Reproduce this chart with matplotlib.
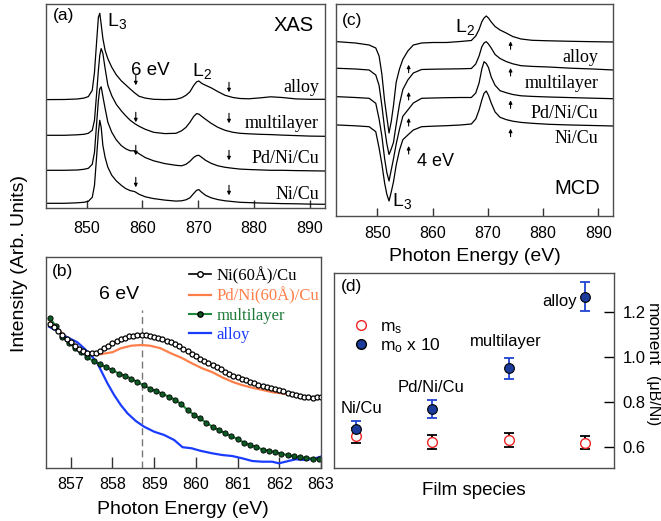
import matplotlib
matplotlib.use("Agg")
import matplotlib.pyplot as plt
from matplotlib.lines import Line2D

plt.rcParams["font.family"] = "Liberation Sans"
plt.rcParams["mathtext.default"] = "regular"

SERIF = "Liberation Serif"

# ---------------- (a) XAS spectra (arb. units, offset) ----------------
E_XAS = [842.7, 846.0, 848.3, 849.5, 850.3, 851.0, 851.4, 851.8, 852.1, 852.35,
         852.6, 852.9, 853.3, 853.8, 854.5, 855.3, 856.2, 857.0, 857.8, 858.6,
         859.4, 860.5, 862.0, 864.0, 866.0, 867.0, 867.8, 868.5, 869.2, 869.7,
         870.1, 870.6, 871.3, 872.3, 873.5, 874.8, 876.2, 877.5, 879.0, 881.0,
         883.0, 885.0, 887.5, 890.0, 892.7]
XAS_ALLOY = [108.7, 108.8, 109.3, 110.2, 111.7, 118, 136, 168, 191, 195,
             184, 170, 158, 149.5, 141, 133.5, 127.5, 123.4, 119.3, 115.4,
             112, 110.2, 109, 108.7, 109, 110.5, 113, 116.5, 123, 126.5,
             127.3, 125, 123, 120.5, 116.7, 113, 110.8, 109.8, 109.5, 110.4,
             111.5, 110.8, 109.4, 109, 109]
XAS_MULTI = [73, 73, 73.5, 74, 75, 78, 88, 116, 138, 153,
             159.7, 155, 140, 123, 112.5, 104, 97.5, 92.5, 88, 84.7,
             82, 79, 76, 74.7, 75, 77.5, 81, 86, 92, 94.7,
             94.2, 92, 89, 85, 81, 78, 76, 75, 74.5, 74,
             73.7, 73.2, 72.7, 72.2, 72]
XAS_PDNICU = [38, 38, 38.3, 39, 40, 44, 56, 86, 108, 119.5,
              121.5, 112, 100, 86, 76, 68.5, 62.7, 59.5, 57.5, 57.5,
              54.5, 50.7, 47.5, 44.7, 43, 42.5, 44, 47, 51, 52.7,
              53, 51, 48, 45, 42.5, 41, 40, 39.2, 38.8, 38.4,
              38, 38, 37.7, 37.5, 37.3]
XAS_NICU = [5, 5, 5.5, 6, 7, 11, 23, 53, 76, 88,
            81, 63, 51, 41, 33, 27.5, 23, 19.7, 17.7, 16.7,
            14, 11.5, 9.7, 8.2, 7.2, 7.5, 8.5, 10.5, 15, 18,
            18.7, 16, 13, 10.5, 8.7, 7.5, 6.7, 6, 5.7, 5.3,
            5, 4.7, 4.5, 4.2, 4]
XAS_LABELS = ["alloy", "multilayer", "Pd/Ni/Cu", "Ni/Cu"]
XAS_LABEL_Y = [120.7, 84.7, 49.7, 14]
XAS_ARROW_E = [858.8, 875.5]
XAS_ARROW_TOP = [[133, 126], [96, 95], [63, 58], [31, 23]]

# ---------------- (c) MCD spectra ----------------
E_MCD = [842.8, 846.0, 848.5, 849.7, 850.3, 850.8, 851.3, 851.7, 852.1, 852.5,
         852.9, 853.4, 854.0, 854.6, 855.5, 856.5, 858.0, 860.0, 862.5, 865.0,
         867.0, 867.8, 868.4, 868.9, 869.3, 869.7, 870.1, 870.6, 871.3, 872.2,
         873.3, 874.5, 876.0, 878.0, 881.0, 885.0, 889.0, 892.7]
MCD_ALLOY = [174.3, 173, 171, 168, 160, 142, 115, 99, 83, 94.4,
             110.2, 134, 147.1, 156.6, 165, 171, 173, 173.5, 173.5, 174.5,
             175.5, 180, 186.5, 194.3, 198, 200, 198, 194, 189.5, 186,
             183, 179.5, 177, 175.7, 175.2, 174.7, 174.3, 174]
MCD_MULTI = [147.7, 147, 146, 141, 130.5, 110.5, 87.4, 72.3, 61.5, 67,
             73.5, 91.5, 112, 126.5, 136, 143, 146.5, 146.8, 147, 147.2,
             147.5, 152, 160, 169.3, 173, 174.3, 172, 168, 161.5, 157.5,
             154.5, 152.2, 150.3, 149.6, 149, 147.8, 147, 146]
MCD_PDNICU = [119.3, 118.5, 117.7, 112.7, 97, 80, 57.3, 43.5, 35, 46,
              57, 72, 87, 99.7, 106, 113, 117.7, 118, 118.3, 118.5,
              118.5, 123, 133, 147, 154.3, 152.5, 148.5, 139, 130.7, 125.3,
              123.3, 121.5, 120.2, 119.6, 119, 118.4, 117.8, 117.3]
MCD_NICU = [91, 90.2, 89.3, 84.3, 68, 52, 33, 21.8, 15, 24,
            34, 51, 66, 76.3, 81, 86, 89.3, 89.8, 90.3, 91,
            92, 97, 106, 116, 122.7, 125, 120.7, 113, 104, 98.7,
            96.4, 94.8, 93.6, 92.7, 91.7, 91, 90.5, 90]
MCD_LABEL_Y = [158.7, 132.7, 102.7, 77.7]
MCD_ARROW_E = [855.65, 874.1]
MCD_ARROW_BASE = [[143.3, 166.7], [116, 140], [90, 107.7], [62, 79.3]]

# ---------------- (b) zoom on the 6 eV satellite ----------------
E_B = [856.5, 856.6, 856.7, 856.8, 856.9, 857.0, 857.1, 857.2, 857.3, 857.4,
       857.5, 857.6, 857.7, 857.8, 857.9, 858.0, 858.1, 858.2, 858.3, 858.4,
       858.5, 858.6, 858.7, 858.8, 858.9, 859.0, 859.1, 859.2, 859.3, 859.4,
       859.5, 859.6, 859.7, 859.8, 859.9, 860.0, 860.1, 860.2, 860.3, 860.4,
       860.5, 860.6, 860.7, 860.8, 860.9, 861.0, 861.1, 861.2, 861.3, 861.4,
       861.5, 861.6, 861.7, 861.8, 861.9, 862.0, 862.1, 862.2, 862.3, 862.4,
       862.5, 862.6, 862.7, 862.8, 862.9, 863.0]
B_NICU = [143.8, 140.5, 137, 132.8, 129, 125.4, 122, 119, 116.5, 115,
          114.4, 115, 117, 119.5, 122, 124.3, 126.6, 128.7, 130.2, 131.3,
          132, 132.5, 132.7, 132.4, 131.8, 131, 130, 128.8, 127.2, 125.4,
          123.5, 121.5, 119, 116.5, 113.7, 111.5, 109, 106.7, 104.5, 102.5,
          100.5, 98.3, 96.2, 94, 92.2, 90.5, 88.8, 87.4, 86, 84.6,
          83.2, 81.9, 80.8, 79.7, 78.6, 77.5, 76.3, 75, 73.6, 72.6,
          71.8, 71.1, 70.5, 70, 70.3, 71]
E_PD = [856.5, 856.7, 857.0, 857.25, 857.5, 857.7, 858.0, 858.2, 858.45, 858.7,
        858.9, 859.15, 859.4, 859.65, 859.9, 860.15, 860.4, 860.65, 860.9, 861.1,
        861.35, 861.6, 861.85, 862.05, 862.3, 862.55, 862.8, 863.0]
B_PD = [145.5, 138.3, 126.7, 117.5, 113.4, 113.4, 115.5, 119.4, 122, 122.7,
        122, 119.5, 114.4, 110, 104.5, 99.4, 95.4, 90, 85.5, 82.7,
        80, 77.7, 75.4, 74.4, 72.7, 71.7, 70.7, 69.4]
E_ML = [856.5, 856.65, 856.8, 856.95, 857.1, 857.25, 857.4, 857.55, 857.7, 857.85,
        858.0, 858.15, 858.3, 858.45, 858.6, 858.75, 858.9, 859.05, 859.2, 859.35,
        859.5, 859.65, 859.8, 859.95, 860.1, 860.25, 860.4, 860.55, 860.7, 860.85,
        861.0, 861.15, 861.3, 861.45, 861.6, 861.75, 861.9, 862.05, 862.2, 862.35,
        862.5, 862.65, 862.8, 862.95]
B_ML = [149.5, 141.5, 131, 124.8, 120, 115.7, 110.5, 106.3, 103.6, 100.5,
        97.7, 94.2, 92, 89, 85.6, 82.3, 79.2, 76.5, 74, 71,
        68, 63.5, 57.8, 53, 49.3, 45, 41, 37.7, 34.6, 31.5,
        28.6, 25.2, 22.8, 20.7, 18.2, 17, 15.5, 14, 12.6, 11.4,
        10.4, 9.8, 9.2, 8.5]
E_AL = [856.48, 856.68, 856.84, 857.0, 857.16, 857.32, 857.48, 857.64, 857.76, 857.88,
        858.04, 858.2, 858.36, 858.56, 858.76, 859.0, 859.24, 859.48, 859.68, 859.9,
        860.1, 860.39, 860.63, 860.87, 861.11, 861.35, 861.59, 861.83, 861.99, 862.15,
        862.39, 862.63, 862.87, 862.99]
B_AL = [141, 136.7, 132, 128.7, 125.4, 119.4, 112.7, 104.4, 94.4, 84.4,
        72.7, 62.7, 54.4, 46.7, 41, 36, 32.7, 27.7, 20.5, 19.4,
        17, 14.4, 12.7, 11.7, 9.4, 6.7, 6, 6, 4.4, 6,
        8.4, 7.7, 9.4, 11]
SAT_E = 858.72

# ---------------- (d) moments ----------------
FILMS = ["Ni/Cu", "Pd/Ni/Cu", "multilayer", "alloy"]
FILM_POS = [1, 2, 3, 4]
MO_X10 = [0.68, 0.766, 0.948, 1.267]
MO_ERR = [0.035, 0.04, 0.048, 0.064]
MS = [0.649, 0.62, 0.63, 0.618]
MS_ERR = [0.032, 0.031, 0.032, 0.03]

W, H = 661, 521
fig = plt.figure(figsize=(W / 100, H / 100), dpi=100)


def rect(l, t, r, b):
    return [l / W, 1 - b / H, (r - l) / W, (b - t) / H]


def style_spec(ax):
    for s in ax.spines.values():
        s.set_color("#4d4d4d")
        s.set_linewidth(1.0)
    ax.tick_params(axis="x", direction="in", length=6, width=1.0, color="#333333",
                   labelsize=11.5, pad=7)
    ax.set_yticks([])


# ---- (a)
ax_a = fig.add_axes(rect(45.7, 3.5, 325, 208.3))
for y in (XAS_ALLOY, XAS_MULTI, XAS_PDNICU, XAS_NICU):
    ax_a.plot(E_XAS, y, color="black", lw=0.9)
for top in XAS_ARROW_TOP:
    for e, t in zip(XAS_ARROW_E, top):
        ax_a.annotate("", xy=(e, t - 10), xytext=(e, t),
                      arrowprops=dict(arrowstyle="-|>", color="black", lw=0.8,
                                      mutation_scale=5, shrinkA=0, shrinkB=0))
for lab, y in zip(XAS_LABELS, XAS_LABEL_Y):
    ax_a.text(891.6, y, lab, family=SERIF, fontsize=13, ha="right", va="center")
ax_a.text(843.9, 193, "(a)", fontsize=12.5, va="center")
ax_a.text(853.7, 187, "$L_3$", fontsize=14, va="center")
ax_a.text(861.4, 138, "6 eV", fontsize=13.5, ha="center", va="center")
ax_a.text(868.8, 137, "$L_2$", fontsize=14, va="center")
ax_a.text(890.6, 183, "XAS", fontsize=14.5, ha="right", va="center")
ax_a.set_xlim(842.66, 892.7)
ax_a.set_ylim(0, 204.8)
ax_a.set_xticks([850, 860, 870, 880, 890])
style_spec(ax_a)
ax_a.tick_params(axis="x", pad=9)

# ---- (c)
ax_c = fig.add_axes(rect(336, 4, 613.3, 216))
for y in (MCD_ALLOY, MCD_MULTI, MCD_PDNICU, MCD_NICU):
    ax_c.plot(E_MCD, y, color="black", lw=0.9)
for base in MCD_ARROW_BASE:
    for e, b in zip(MCD_ARROW_E, base):
        ax_c.annotate("", xy=(e, b + 8), xytext=(e, b),
                      arrowprops=dict(arrowstyle="-|>", color="black", lw=0.8,
                                      mutation_scale=5, shrinkA=0, shrinkB=0))
for lab, y in zip(XAS_LABELS, MCD_LABEL_Y):
    ax_c.text(890.0, y, lab, family=SERIF, fontsize=13, ha="right", va="center")
ax_c.text(843.5, 195, "(c)", fontsize=12.5, va="center")
ax_c.text(864.0, 189, "$L_2$", fontsize=14, va="center")
ax_c.text(857.1, 54, "4 eV", fontsize=13, va="center")
ax_c.text(852.6, 15, "$L_3$", fontsize=14, va="center")
ax_c.text(890.3, 28, "MCD", fontsize=14.5, ha="right", va="center")
ax_c.set_xlim(842.5, 892.7)
ax_c.set_ylim(0, 212)
ax_c.set_xticks([850, 860, 870, 880, 890])
style_spec(ax_c)
ax_c.set_xlabel("Photon Energy (eV)", fontsize=14, labelpad=5)

# ---- (b)
ax_b = fig.add_axes(rect(45.7, 256.7, 321, 467.7))
ax_b.axvline(SAT_E, ymax=157.7 / 211, color="#777777", lw=1.0, ls=(0, (5, 3)))
ax_b.plot(E_PD, B_PD, color="#ff7f4a", lw=1.6)
ax_b.plot(E_AL, B_AL, color="#1a3cff", lw=1.6)
ax_b.plot(E_ML, B_ML, "-o", color="#1f8a3c", lw=1.5, ms=3.8,
          mfc="#0d5a25", mec="black", mew=0.6)
ax_b.plot(E_B, B_NICU, "-o", color="black", lw=0.6, ms=3.6,
          mfc="white", mec="black", mew=0.9)
handles = [
    Line2D([], [], color="black", lw=1.2, marker="o", ms=4, mfc="white", mec="black"),
    Line2D([], [], color="#ff7f4a", lw=1.6),
    Line2D([], [], color="#1f8a3c", lw=1.5, marker="o", ms=3.8, mfc="#0d5a25", mec="black"),
    Line2D([], [], color="#1a3cff", lw=1.6),
]
leg = ax_b.legend(handles, ["Ni(60Å)/Cu", "Pd/Ni(60Å)/Cu", "multilayer", "alloy"],
                  loc="upper left", bbox_to_anchor=(0.485, 1.0), frameon=False,
                  prop={"family": SERIF, "size": 12}, handlelength=1.3,
                  handletextpad=0.35, labelspacing=0.18, borderaxespad=0.2)
for txt, col in zip(leg.get_texts(), ["black", "#ff7f4a", "#1f7a3a", "#1a3cff"]):
    txt.set_color(col)
ax_b.text(856.56, 196, "(b)", fontsize=12.5, va="center")
ax_b.text(858.16, 173, "6 eV", fontsize=14, ha="center", va="center")
ax_b.set_xlim(856.4, 863.0)
ax_b.set_ylim(0, 211)
ax_b.set_xticks([857, 858, 859, 860, 861, 862, 863])
style_spec(ax_b)
ax_b.tick_params(axis="x", length=8)
ax_b.set_xlabel("Photon Energy (eV)", fontsize=14, labelpad=6)

# ---- (d)
ax_d = fig.add_axes(rect(334, 272.7, 614, 468))
ax_d.errorbar(FILM_POS, MS, yerr=MS_ERR, fmt="none", ecolor="black",
              elinewidth=1.3, capsize=3.5, capthick=1.3)
ax_d.errorbar(FILM_POS, MO_X10, yerr=MO_ERR, fmt="none", ecolor="#1f44d0",
              elinewidth=1.3, capsize=3.5, capthick=1.3)
ax_d.plot(FILM_POS, MS, "o", ls="none", ms=7, mfc="white", mec="#ee2222", mew=1.0)
ax_d.plot(FILM_POS, MO_X10, "o", ls="none", ms=7, mfc="#1c3c9c", mec="black", mew=0.8)
for pos, name, dx, dy in zip(FILM_POS, FILMS, [0.08, -0.02, -0.04, -0.34],
                             [0.088, 0.095, 0.119, -0.024]):
    ax_d.text(pos + dx, max(MO_X10[pos - 1], MS[pos - 1]) + dy, name,
              fontsize=12, ha="center", va="center")
d_handles = [
    Line2D([], [], ls="none", marker="o", ms=7, mfc="white", mec="#ee2222"),
    Line2D([], [], ls="none", marker="o", ms=7, mfc="#1c3c9c", mec="black"),
]
ax_d.legend(d_handles, ["$m_s$", "$m_o$ x 10"], loc="upper left",
            bbox_to_anchor=(0.04, 0.8), frameon=False, fontsize=12.5,
            handlelength=1.0, handletextpad=0.6, labelspacing=0.02,
            borderaxespad=0.0)
ax_d.text(0.8, 1.311, "(d)", fontsize=12.5, va="center")
ax_d.set_xlim(0.716, 4.375)
ax_d.set_ylim(0.505, 1.373)
ax_d.set_xticks([])
ax_d.set_yticks([0.6, 0.8, 1.0, 1.2])
ax_d.yaxis.tick_right()
ax_d.tick_params(axis="y", direction="in", length=7, width=1.0, labelsize=12, pad=6)
for s in ax_d.spines.values():
    s.set_color("#4d4d4d")
    s.set_linewidth(1.0)
ax_d.set_xlabel("Film species", fontsize=13.5, labelpad=10)

fig.text(20 / W, 1 - 263 / H, "Intensity (Arb. Units)", rotation=90,
         fontsize=14, ha="center", va="center")
fig.text(652 / W, 1 - 334 / H, "moment", rotation=270, fontsize=12.5,
         ha="center", va="center")
fig.text(652 / W, 1 - 401 / H, "(μB/Ni)", rotation=270, fontsize=11.5,
         ha="center", va="center")

fig.savefig("out.png", dpi=100)
